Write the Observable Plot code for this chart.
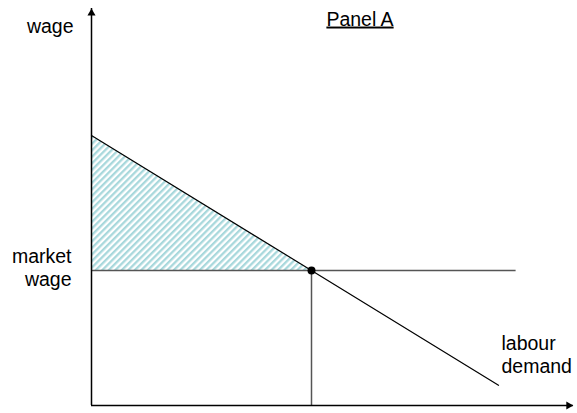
<!DOCTYPE html>
<html>
<head>
<meta charset="utf-8">
<script src="https://cdn.jsdelivr.net/npm/d3@7"></script>
<script src="https://cdn.jsdelivr.net/npm/@observablehq/plot@0.6"></script>
<style>
  html, body { margin: 0; padding: 0; background: #fff; }
  svg { display: block; }
</style>
</head>
<body>
<script>
// ---- data (in chart units: quantity of labour, wage) ----
const demandQ = [0, 10, 18.5];      // labour demand curve, quantity
const demandW = [20, 10, 1.5];      // labour demand curve, wage
const marketWage = 10;
const equilibriumQ = 10;
const wageLineEndQ = 19.3;
const axisEndQ = 21.9;              // x-axis arrow tip
const axisEndW = 29.4;              // y-axis arrow tip
const yAxisLabel = "wage";
const marketWageLabel = "market\nwage";
const demandLabel = "labour\ndemand";
const panelTitle = "Panel A";

const demand = demandQ.map((q, i) => ({q, w: demandW[i]}));
const surplus = demand.filter(d => d.q <= equilibriumQ);
const font = "Liberation Sans, Arial, sans-serif";
const fs = 19.5;

const chart = Plot.plot({
  width: 577,
  height: 413,
  marginLeft: 91,
  marginRight: 0,
  marginTop: 0,
  marginBottom: 8,
  x: {domain: [0, 486 / 22], axis: null},
  y: {domain: [0, 30], axis: null},
  style: {fontFamily: font, background: "#fff"},
  marks: [
    // hatched triangle
    Plot.areaY(surplus, {x: "q", y1: marketWage, y2: "w", fill: "url(#hatch)"}),
    // market wage line and vertical drop line
    Plot.ruleY([marketWage], {x1: 0, x2: wageLineEndQ, stroke: "#555", strokeWidth: 1.5}),
    Plot.ruleX([equilibriumQ], {y1: 0, y2: marketWage, stroke: "#555", strokeWidth: 1.5}),
    // demand curve
    Plot.line(demand, {x: "q", y: "w", stroke: "#000", strokeWidth: 1.2}),
    // axes
    Plot.ruleX([0], {y1: 0, y2: axisEndW, stroke: "#000", strokeWidth: 1.5}),
    Plot.ruleY([0], {x1: 0, x2: axisEndQ, stroke: "#000", strokeWidth: 1.5}),
    // arrow heads
    Plot.dot([0], {x: 0, y: axisEndW, symbol: "triangle", r: 3, fill: "#000", stroke: null, dy: 4.67}),
    Plot.dot([0], {x: axisEndQ, y: 0, symbol: "triangle", r: 3, fill: "#000", stroke: null, rotate: 90, dx: -4.67}),
    // equilibrium point
    Plot.dot([0], {x: equilibriumQ, y: marketWage, r: 4, fill: "#000", stroke: null}),
    // labels
    Plot.text([yAxisLabel], {frameAnchor: "top-left", text: d => d, dx: -18, dy: 26,
      textAnchor: "end", lineAnchor: "middle", fontSize: fs, fill: "#000"}),
    Plot.text([marketWageLabel], {x: 0, y: marketWage, text: d => d, dx: -20, dy: -3,
      textAnchor: "end", lineAnchor: "middle", lineHeight: 1.18, fontSize: fs, fill: "#000"}),
    Plot.text([demandLabel], {x: demandQ[demandQ.length - 1], y: demandW[demandW.length - 1], text: d => d,
      dx: 3, dy: -31.5, textAnchor: "start", lineAnchor: "middle", lineHeight: 1.18, fontSize: fs, fill: "#000"}),
    Plot.text([panelTitle], {frameAnchor: "top-left", text: d => d, dx: 268.5, dy: 18.8,
      textAnchor: "middle", lineAnchor: "middle", fontSize: fs, fill: "#000"})
  ]
});

// hatch pattern definition
const svg = d3.select(chart);
const defs = svg.insert("defs", ":first-child");
const pat = defs.append("pattern")
  .attr("id", "hatch")
  .attr("patternUnits", "userSpaceOnUse")
  .attr("width", 4.6)
  .attr("height", 4.6)
  .attr("patternTransform", "rotate(45)");
pat.append("rect").attr("width", 4.6).attr("height", 4.6).attr("fill", "#fff");
pat.append("rect").attr("width", 2.3).attr("height", 4.6).attr("fill", "#a8d8dc");

// underline the panel title
svg.selectAll("text").filter(function() { return this.textContent === panelTitle; })
  .style("text-decoration", "underline");

document.body.appendChild(chart);
</script>
</body>
</html>
